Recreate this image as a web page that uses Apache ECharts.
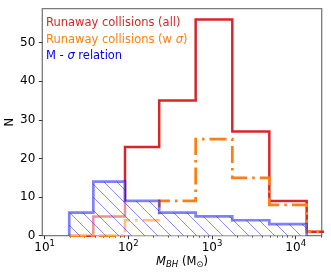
<!DOCTYPE html>
<html><head><meta charset="utf-8">
<script src="https://cdn.jsdelivr.net/npm/echarts@6/dist/echarts.min.js"></script>
<style>html,body{margin:0;padding:0;background:#fff}#c{width:331px;height:276px}</style>
</head><body><div id="c"></div>
<script>
// Bin edges (M_BH, solar masses) shared by all histograms
const binEdges = [19.7, 38.2, 91.3, 234, 638, 1748, 4842, 13520, 37000];
// Counts per bin
const countsAll   = [0, 5, 23, 35, 56, 27, 9, 1];   // Runaway collisions (all)
const countsSigma = [0, 0, 4, 9, 25, 15, 8, 1];     // Runaway collisions (w sigma)
const countsMsig  = [6, 14, 9, 6, 5, 4, 3];         // M - sigma relation (7 bins)
// Axis ticks
const xMajorTicks = [10, 100, 1000, 10000];
const xMinorTicks = [20,30,40,50,60,70,80,90,200,300,400,500,600,700,800,900,2000,3000,4000,5000,6000,7000,8000,9000,20000];
const yTicks = [0, 10, 20, 30, 40, 50];
const xRange = [9.386, 20446];
const yRange = [0, 58.8];

function stepData(edges, counts) {
  const d = [[edges[0], 0]];
  for (let i = 0; i < counts.length; i++) d.push([edges[i], counts[i]]);
  d.push([edges[counts.length], 0]);
  return d;
}

// hatch pattern for the M-sigma histogram
const S = 13;
const cv = document.createElement('canvas');
cv.width = S; cv.height = S;
const cx = cv.getContext('2d');
cx.fillStyle = 'rgba(255,255,255,0.5)';
cx.fillRect(0, 0, S, S);
cx.strokeStyle = 'rgba(40,40,255,0.6)';
cx.lineWidth = 0.9;
cx.beginPath();
cx.moveTo(-1, -1); cx.lineTo(S + 1, S + 1);
cx.moveTo(-1, S - 1); cx.lineTo(1, S + 1);
cx.moveTo(S - 1, -1); cx.lineTo(S + 1, 1);
cx.stroke();

const FONT = 'DejaVu Sans';
const chart = echarts.init(document.getElementById('c'), null, {renderer: 'canvas'});
chart.setOption({
  animation: false,
  backgroundColor: '#fff',
  grid: {left: 42.3, right: 9.3, top: 8.7, bottom: 40.3, show: true, borderColor: '#7a7a7a', borderWidth: 1.3,
         backgroundColor: 'transparent', containLabel: false, outerBoundsMode: 'none'},
  xAxis: [{
    type: 'log', logBase: 10, min: xRange[0], max: xRange[1], position: 'bottom',
    axisLine: {show: false, onZero: false}, splitLine: {show: false},
    axisTick: {show: true, length: 3.5, lineStyle: {color: '#333', width: 1}, customValues: xMajorTicks},
    axisLabel: {customValues: xMajorTicks, margin: 4, color: '#000', fontFamily: FONT, fontSize: 12,
      formatter: v => '10{sup|' + Math.round(Math.log10(v)) + '}',
      rich: {sup: {fontSize: 8.5, fontFamily: FONT, color: '#000', padding: [0, 0, 7, 0]}}},
    name: '{i|M}{s|BH} (M{o|\u2299})', nameLocation: 'middle', nameGap: 19, nameMoveOverlap: false,
    nameTextStyle: {fontFamily: FONT, fontSize: 11.5, color: '#000',
      rich: {i: {fontStyle: 'italic', fontFamily: FONT, fontSize: 11.5, color: '#000'},
             s: {fontStyle: 'italic', fontFamily: FONT, fontSize: 8.5, color: '#000', padding: [6, 0, 0, 0]},
             o: {fontFamily: FONT, fontSize: 8.5, color: '#000', padding: [6, 0, 0, 0]}}}
  }, {
    type: 'log', logBase: 10, min: xRange[0], max: xRange[1], position: 'bottom',
    axisLine: {show: false, onZero: false}, splitLine: {show: false},
    axisTick: {show: true, length: 2, lineStyle: {color: '#333', width: 0.8}, customValues: xMinorTicks},
    axisLabel: {show: false}
  }],
  yAxis: {
    type: 'value', min: yRange[0], max: yRange[1],
    axisLine: {show: false}, splitLine: {show: false},
    axisTick: {show: true, length: 3.5, lineStyle: {color: '#333', width: 1}, customValues: yTicks},
    axisLabel: {customValues: yTicks, margin: 7, color: '#000', fontFamily: FONT, fontSize: 12},
    name: 'N', nameLocation: 'middle', nameGap: 26, nameRotate: 90, nameMoveOverlap: false,
    nameTextStyle: {fontFamily: FONT, fontSize: 11.5, color: '#000'}
  },
  graphic: [
    {type: 'text', left: 46, top: 17.5, style: {text: 'Runaway collisions (all)', fill: '#d62728', font: '11.5px "DejaVu Sans"'}},
    {type: 'text', left: 46, top: 33.8, style: {
      text: 'Runaway collisions (w {i|\u03c3})', fill: '#ff7f0e', font: '11.5px "DejaVu Sans"',
      rich: {i: {fontStyle: 'italic', fontFamily: FONT, fontSize: 11.5, fill: '#ff7f0e'}}}},
    {type: 'text', left: 46, top: 50.1, style: {
      text: 'M - {i|\u03c3} relation', fill: '#0000ff', font: '11.5px "DejaVu Sans"',
      rich: {i: {fontStyle: 'italic', fontFamily: FONT, fontSize: 11.5, fill: '#0000ff'}}}}
  ],
  series: [
    {type: 'line', step: 'end', xAxisIndex: 0, z: 2, showSymbol: false, symbol: 'none',
     data: stepData(binEdges, countsAll),
     lineStyle: {color: '#d62728', width: 2.5, join: 'miter'}},
    {type: 'line', step: 'end', xAxisIndex: 0, z: 3, showSymbol: false, symbol: 'none',
     data: stepData(binEdges, countsSigma),
     lineStyle: {color: '#ff7f0e', width: 2.7, type: [17, 5, 2.6, 5], join: 'miter'}},
    {type: 'line', step: 'end', xAxisIndex: 0, z: 4, showSymbol: false, symbol: 'none',
     data: stepData(binEdges, countsMsig),
     lineStyle: {color: 'rgba(0,0,255,0.5)', width: 2.7, join: 'miter'},
     areaStyle: {color: {image: cv, repeat: 'repeat'}, opacity: 1, origin: 'start'}}
  ]
});
</script></body></html>
